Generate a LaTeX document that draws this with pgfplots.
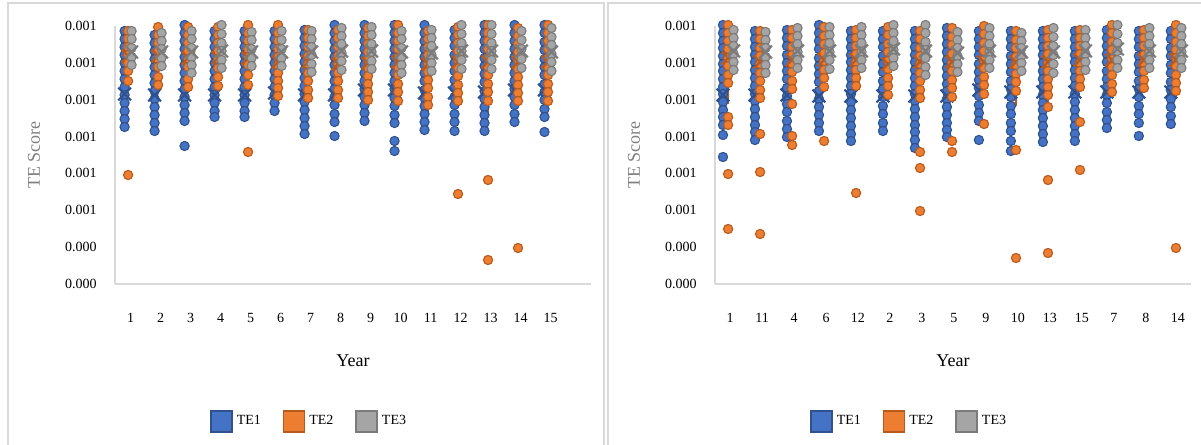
\documentclass[border=0pt]{standalone}
\usepackage{fontspec}
\setmainfont{Liberation Serif}
\usepackage{pgfplots}
\pgfplotsset{compat=1.18}
\definecolor{b1}{HTML}{4472C4}\definecolor{b2}{HTML}{2F528F}
\definecolor{o1}{HTML}{ED7D31}\definecolor{o2}{HTML}{B85A1E}
\definecolor{g1}{HTML}{A5A5A5}\definecolor{g2}{HTML}{7B7B7B}
\definecolor{axgray}{HTML}{D9D9D9}\definecolor{labgray}{HTML}{7F7F7F}
\pgfplotsset{
 panel/.style={
  scale only axis, width=238pt, height=129pt, anchor=south west,
  ymin=0, ymax=258,
  ytick={0,36.857,73.714,110.571,147.429,184.286,221.143,258},
  yticklabels={0.000,0.000,0.001,0.001,0.001,0.001,0.001,0.001},
  xtick={1,...,15},
  axis x line*=bottom, axis y line*=left,
  axis line style={draw=axgray, line width=0.75pt, -},
  major tick length=0pt, tick style={draw=none},
  clip=false,
  /pgf/number format/assume math mode=true,
  tick label style={font=\fontsize{7}{8}\selectfont, text=black},
  yticklabel style={anchor=east, inner sep=0pt, xshift=-9pt},
  xticklabel style={anchor=center, inner sep=0pt, yshift=-17pt},
  ylabel={TE Score},
  ylabel style={at={(axis description cs:-0.17,0.5)}, anchor=center, font=\fontsize{9}{10}\selectfont, text=labgray},
  xlabel={Year},
  xlabel style={at={(axis description cs:0.5,-0.298)}, anchor=center, font=\fontsize{9}{10}\selectfont, text=black},
  legend image code/.code={\draw[##1] (0pt,-5.25pt) rectangle (10.5pt,5.25pt);},
  legend style={at={(axis description cs:0.41,-0.533)}, anchor=center, draw=none, fill=none,
    legend columns=3, font=\fontsize{7}{8}\selectfont,
    /tikz/every even column/.append style={column sep=9pt}},
 },
 dB/.style={only marks, mark=*, mark size=2.3pt, mark options={fill=b1, draw=b2, line width=0.55pt}, forget plot},
 dO/.style={only marks, mark=*, mark size=2.3pt, mark options={fill=o1, draw=o2, line width=0.55pt}, forget plot},
 dG/.style={only marks, mark=*, mark size=2.3pt, mark options={fill=g1, draw=g2, line width=0.55pt}, forget plot},
 mB/.style={only marks, mark=x, mark size=4.5pt, mark options={draw=b2, line width=1.1pt}, forget plot},
 mO/.style={only marks, mark=x, mark size=4.5pt, mark options={draw=o2, line width=1.1pt}, forget plot},
 mG/.style={only marks, mark=x, mark size=4.5pt, mark options={draw=g2, line width=1.1pt}, forget plot},
 wO/.style={draw=o2, line width=0.75pt, no marks, forget plot},
}
\begin{document}
\begin{tikzpicture}
\path[use as bounding box] (0,0) rectangle (600.5pt,222.5pt);
\draw[axgray, line width=0.75pt] (4pt,-5pt) rectangle (302pt,221pt);
\draw[axgray, line width=0.75pt] (304pt,-5pt) rectangle (605pt,221pt);
% ---------------- LEFT PANEL ----------------
\begin{axis}[panel, at={(57.5pt,80.5pt)}, xmin=0.48, xmax=16.35,
  xticklabels={1,2,3,4,5,6,7,8,9,10,11,12,13,14,15}]
\addlegendimage{fill=b1, draw=b2, line width=0.75pt}\addlegendentry{TE1}
\addlegendimage{fill=o1, draw=o2, line width=0.75pt}\addlegendentry{TE2}
\addlegendimage{fill=g1, draw=g2, line width=0.75pt}\addlegendentry{TE3}
% TE1
\addplot[dB, x filter/.expression={x-0.2}] coordinates {
(1,253)(1,245)(1,237)(1,229)(1,221)(1,213)(1,205)(1,197)(1,189)(1,181)(1,173)(1,165)(1,157)
(2,249)(2,241)(2,233)(2,225)(2,217)(2,209)(2,201)(2,193)(2,185)(2,177)(2,169)(2,161)(2,153)
(3,259)(3,251)(3,243)(3,235)(3,227)(3,219)(3,211)(3,203)(3,195)(3,187)(3,179)(3,171)(3,163)(3,138)
(4,253)(4,245)(4,237)(4,229)(4,221)(4,213)(4,205)(4,197)(4,189)(4,181)(4,173)(4,167)
(5,253)(5,245)(5,237)(5,229)(5,221)(5,213)(5,205)(5,197)(5,189)(5,181)(5,173)(5,167)
(6,253)(6,245)(6,237)(6,229)(6,221)(6,213)(6,205)(6,197)(6,189)(6,181)(6,173)
(7,254)(7,246)(7,238)(7,230)(7,222)(7,214)(7,206)(7,198)(7,190)(7,182)(7,174)(7,166)(7,158)(7,150)
(8,259)(8,251)(8,243)(8,235)(8,227)(8,219)(8,211)(8,203)(8,195)(8,187)(8,179)(8,170)(8,162)(8,148)
(9,259)(9,251)(9,243)(9,235)(9,227)(9,219)(9,211)(9,203)(9,195)(9,187)(9,179)(9,171)(9,163)
(10,259)(10,251)(10,243)(10,235)(10,227)(10,219)(10,211)(10,203)(10,195)(10,186)(10,178)(10,169)(10,161)(10,143)(10,133)
(11,259)(11,251)(11,243)(11,235)(11,227)(11,219)(11,211)(11,203)(11,194)(11,186)(11,178)(11,170)(11,162)(11,154)
(12,254)(12,246)(12,238)(12,229)(12,221)(12,213)(12,204)(12,196)(12,187)(12,179)(12,170)(12,162)(12,153)
(13,259)(13,251)(13,243)(13,235)(13,226)(13,218)(13,210)(13,202)(13,193)(13,185)(13,177)(13,169)(13,161)(13,153)
(14,259)(14,251)(14,243)(14,235)(14,227)(14,219)(14,211)(14,203)(14,195)(14,187)(14,179)(14,170)(14,162)
(15,259)(15,251)(15,242)(15,234)(15,225)(15,217)(15,209)(15,200)(15,192)(15,184)(15,175)(15,167)(15,152)};
\addplot[mB, x filter/.expression={x-0.2}] coordinates {
(1,190)(2,189)(3,189)(4,189)(5,189)(6,191)(7,189)(8,189)(9,194)(10,194)(11,191)(12,191)(13,192)(14,194)(15,194)};
% TE2
\addplot[wO, x filter/.expression={x-0.083}] coordinates {(4,198)(4,181)};
\addplot[wO, x filter/.expression={x-0.083}] coordinates {(11,179)(11,171)};
\addplot[wO, x filter/.expression={x-0.083}] coordinates {(12,183)(12,176)};
\addplot[wO, x filter/.expression={x-0.083}] coordinates {(13,183)(13,167)};
\addplot[dO, x filter/.expression={x-0.083}] coordinates {
(1,253)(1,245)(1,237)(1,229)(1,221)(1,213)(1,203)(1,109)
(2,257)(2,249)(2,241)(2,233)(2,225)(2,217)(2,207)(2,199)
(3,257)(3,249)(3,241)(3,233)(3,225)(3,217)(3,205)(3,197)
(4,257)(4,249)(4,241)(4,233)(4,225)(4,216)(4,207)(4,198)
(5,259)(5,251)(5,243)(5,235)(5,227)(5,219)(5,209)(5,199)(5,132)
(6,259)(6,251)(6,243)(6,235)(6,227)(6,219)(6,211)(6,203)(6,196)(6,188)
(7,254)(7,246)(7,237)(7,228)(7,220)(7,211)(7,203)(7,194)(7,186)
(8,254)(8,246)(8,237)(8,228)(8,220)(8,211)(8,203)(8,194)(8,186)
(9,256)(9,248)(9,240)(9,232)(9,224)(9,216)(9,208)(9,200)(9,192)(9,184)
(10,259)(10,251)(10,243)(10,235)(10,226)(10,217)(10,209)(10,200)(10,192)(10,183)
(11,253)(11,245)(11,237)(11,229)(11,220)(11,212)(11,204)(11,196)(11,187)(11,179)
(12,257)(12,249)(12,241)(12,233)(12,224)(12,216)(12,208)(12,199)(12,191)(12,183)(12,90)
(13,259)(13,251)(13,243)(13,235)(13,226)(13,217)(13,209)(13,200)(13,192)(13,183)(13,104)(13,24)
(14,256)(14,248)(14,240)(14,232)(14,224)(14,215)(14,207)(14,199)(14,191)(14,183)(14,36)
(15,259)(15,251)(15,243)(15,235)(15,226)(15,217)(15,209)(15,200)(15,192)(15,183)};
\addplot[mO, x filter/.expression={x-0.083}] coordinates {
(1,228)(2,228)(3,226)(4,226)(5,226)(6,222)(7,222)(8,220)(9,221)(10,222)(11,220)(12,222)(13,222)(14,222)(15,222)};
% TE3
\addplot[dG, x filter/.expression={x+0.033}] coordinates {
(1,253)(1,245)(1,236)(1,227)(1,219)
(2,251)(2,243)(2,235)(2,226)(2,218)
(3,253)(3,245)(3,236)(3,227)(3,219)(3,211)
(4,259)(4,250)(4,241)(4,233)(4,224)(4,216)
(5,252)(5,244)(5,235)(5,226)(5,218)
(6,253)(6,244)(6,235)(6,226)(6,218)
(7,253)(7,245)(7,237)(7,229)(7,220)(7,212)
(8,256)(8,248)(8,240)(8,231)(8,223)(8,214)
(9,257)(9,249)(9,240)(9,232)(9,223)(9,215)
(10,253)(10,245)(10,236)(10,227)(10,219)(10,211)
(11,254)(11,246)(11,238)(11,229)(11,221)(11,213)
(12,259)(12,250)(12,241)(12,233)(12,224)(12,215)
(13,259)(13,250)(13,241)(13,233)(13,224)(13,215)
(14,253)(14,244)(14,235)(14,225)(14,216)
(15,256)(15,247)(15,239)(15,230)(15,222)(15,213)};
\addplot[mG, x filter/.expression={x+0.033}] coordinates {
(1,232)(2,232)(3,232)(4,233)(5,232)(6,232)(7,232)(8,233)(9,233)(10,232)(11,231)(12,233)(13,233)(14,233)(15,232)};
\end{axis}
% ---------------- RIGHT PANEL ----------------
\begin{axis}[panel, at={(357.5pt,80.5pt)}, xmin=0.53, xmax=15.41,
  xticklabels={1,11,4,6,12,2,3,5,9,10,13,15,7,8,14}]
\addlegendimage{fill=b1, draw=b2, line width=0.75pt}\addlegendentry{TE1}
\addlegendimage{fill=o1, draw=o2, line width=0.75pt}\addlegendentry{TE2}
\addlegendimage{fill=g1, draw=g2, line width=0.75pt}\addlegendentry{TE3}
% TE1
\addplot[dB, x filter/.expression={x-0.22}] coordinates {
(1,259)(1,251)(1,243)(1,236)(1,228)(1,220)(1,213)(1,205)(1,197)(1,190)(1,182)(1,174)(1,167)(1,159)(1,149)(1,127)
(2,253)(2,245)(2,237)(2,229)(2,222)(2,214)(2,206)(2,198)(2,190)(2,183)(2,175)(2,167)(2,159)(2,152)(2,144)
(3,254)(3,246)(3,238)(3,229)(3,221)(3,213)(3,205)(3,196)(3,188)(3,180)(3,172)(3,163)(3,155)(3,147)
(4,259)(4,251)(4,243)(4,235)(4,226)(4,218)(4,210)(4,202)(4,193)(4,185)(4,177)(4,169)(4,161)(4,153)
(5,253)(5,245)(5,237)(5,229)(5,222)(5,214)(5,206)(5,198)(5,190)(5,182)(5,174)(5,166)(5,158)(5,150)(5,143)
(6,253)(6,245)(6,237)(6,228)(6,220)(6,212)(6,203)(6,195)(6,187)(6,178)(6,170)(6,161)(6,153)
(7,253)(7,245)(7,237)(7,229)(7,222)(7,214)(7,206)(7,198)(7,190)(7,183)(7,175)(7,167)(7,159)(7,152)(7,144)(7,136)
(8,256)(8,248)(8,240)(8,232)(8,224)(8,216)(8,208)(8,200)(8,193)(8,185)(8,177)(8,169)(8,161)(8,154)(8,147)
(9,253)(9,245)(9,237)(9,229)(9,220)(9,212)(9,204)(9,196)(9,188)(9,179)(9,171)(9,163)(9,144)
(10,253)(10,245)(10,237)(10,228)(10,220)(10,212)(10,203)(10,195)(10,187)(10,178)(10,170)(10,161)(10,153)(10,143)(10,133)
(11,253)(11,245)(11,237)(11,229)(11,221)(11,213)(11,205)(11,197)(11,189)(11,181)(11,174)(11,166)(11,158)(11,150)(11,142)
(12,253)(12,245)(12,237)(12,229)(12,222)(12,214)(12,206)(12,198)(12,190)(12,182)(12,174)(12,166)(12,158)(12,150)(12,143)
(13,254)(13,246)(13,238)(13,230)(13,222)(13,213)(13,205)(13,197)(13,189)(13,181)(13,172)(13,164)(13,156)
(14,253)(14,245)(14,237)(14,228)(14,220)(14,212)(14,203)(14,195)(14,187)(14,178)(14,170)(14,161)(14,148)
(15,253)(15,245)(15,236)(15,228)(15,219)(15,211)(15,202)(15,194)(15,185)(15,177)(15,168)(15,160)};
\addplot[mB, x filter/.expression={x-0.22}] coordinates {
(1,189)(2,189)(3,189)(4,188)(5,188)(6,188)(7,188)(8,188)(9,194)(10,192)(11,192)(12,192)(13,192)(14,192)(15,192)};
% TE2
\addplot[wO, x filter/.expression={x-0.06}] coordinates {(1,201)(1,180)};
\addplot[wO, x filter/.expression={x-0.06}] coordinates {(10,193)(10,178)};
\addplot[wO, x filter/.expression={x-0.06}] coordinates {(11,189)(11,177)};
\addplot[dO, x filter/.expression={x-0.06}] coordinates {
(1,259)(1,251)(1,243)(1,235)(1,226)(1,218)(1,209)(1,201)(1,167)(1,159)(1,110)(1,55)
(2,253)(2,245)(2,236)(2,228)(2,220)(2,211)(2,203)(2,194)(2,186)(2,150)(2,112)(2,50)
(3,254)(3,246)(3,237)(3,229)(3,220)(3,212)(3,203)(3,195)(3,180)(3,148)(3,139)
(4,257)(4,248)(4,240)(4,231)(4,223)(4,214)(4,206)(4,197)(4,143)
(5,254)(5,246)(5,238)(5,230)(5,222)(5,214)(5,206)(5,198)(5,91)
(6,257)(6,249)(6,240)(6,232)(6,223)(6,215)(6,206)(6,198)(6,189)
(7,253)(7,245)(7,236)(7,228)(7,220)(7,211)(7,203)(7,194)(7,186)(7,132)(7,116)(7,73)
(8,256)(8,247)(8,239)(8,230)(8,221)(8,213)(8,204)(8,196)(8,187)(8,143)(8,132)
(9,258)(9,250)(9,241)(9,233)(9,224)(9,216)(9,207)(9,199)(9,190)(9,160)
(10,253)(10,244)(10,236)(10,227)(10,219)(10,210)(10,202)(10,193)(10,134)(10,26)
(11,254)(11,246)(11,238)(11,230)(11,221)(11,213)(11,205)(11,197)(11,189)(11,177)(11,104)(11,31)
(12,254)(12,246)(12,238)(12,230)(12,221)(12,213)(12,205)(12,197)(12,162)(12,114)
(13,259)(13,251)(13,242)(13,234)(13,225)(13,217)(13,209)(13,200)(13,192)
(14,254)(14,246)(14,238)(14,229)(14,221)(14,213)(14,204)(14,196)
(15,259)(15,251)(15,242)(15,234)(15,226)(15,218)(15,209)(15,201)(15,193)(15,36)};
\addplot[mO, x filter/.expression={x-0.06}] coordinates {
(1,226)(2,222)(3,224)(4,224)(5,224)(6,220)(7,222)(8,222)(9,222)(10,222)(11,222)(12,224)(13,224)(14,224)(15,224)};
% TE3
\addplot[dG, x filter/.expression={x+0.11}] coordinates {
(1,254)(1,246)(1,238)(1,230)(1,222)(1,214)
(2,252)(2,244)(2,236)(2,227)(2,219)(2,211)
(3,256)(3,248)(3,240)(3,232)(3,224)(3,216)
(4,257)(4,249)(4,241)(4,232)(4,224)(4,215)
(5,257)(5,249)(5,241)(5,232)(5,224)(5,216)
(6,259)(6,251)(6,243)(6,234)(6,226)(6,218)
(7,259)(7,251)(7,242)(7,234)(7,226)(7,217)(7,209)
(8,252)(8,244)(8,236)(8,228)(8,220)(8,212)
(9,256)(9,248)(9,240)(9,232)(9,224)(9,216)
(10,251)(10,243)(10,236)(10,228)(10,221)(10,213)
(11,256)(11,247)(11,238)(11,229)(11,220)(11,211)
(12,254)(12,246)(12,238)(12,230)(12,222)(12,214)
(13,259)(13,250)(13,241)(13,233)(13,224)(13,216)
(14,256)(14,248)(14,240)(14,232)(14,224)(14,216)
(15,256)(15,248)(15,240)(15,232)(15,224)(15,216)};
\addplot[mG, x filter/.expression={x+0.11}] coordinates {
(1,233)(2,232)(3,233)(4,233)(5,233)(6,235)(7,233)(8,231)(9,233)(10,232)(11,232)(12,233)(13,235)(14,233)(15,233)};
\end{axis}
\end{tikzpicture}
\end{document}
